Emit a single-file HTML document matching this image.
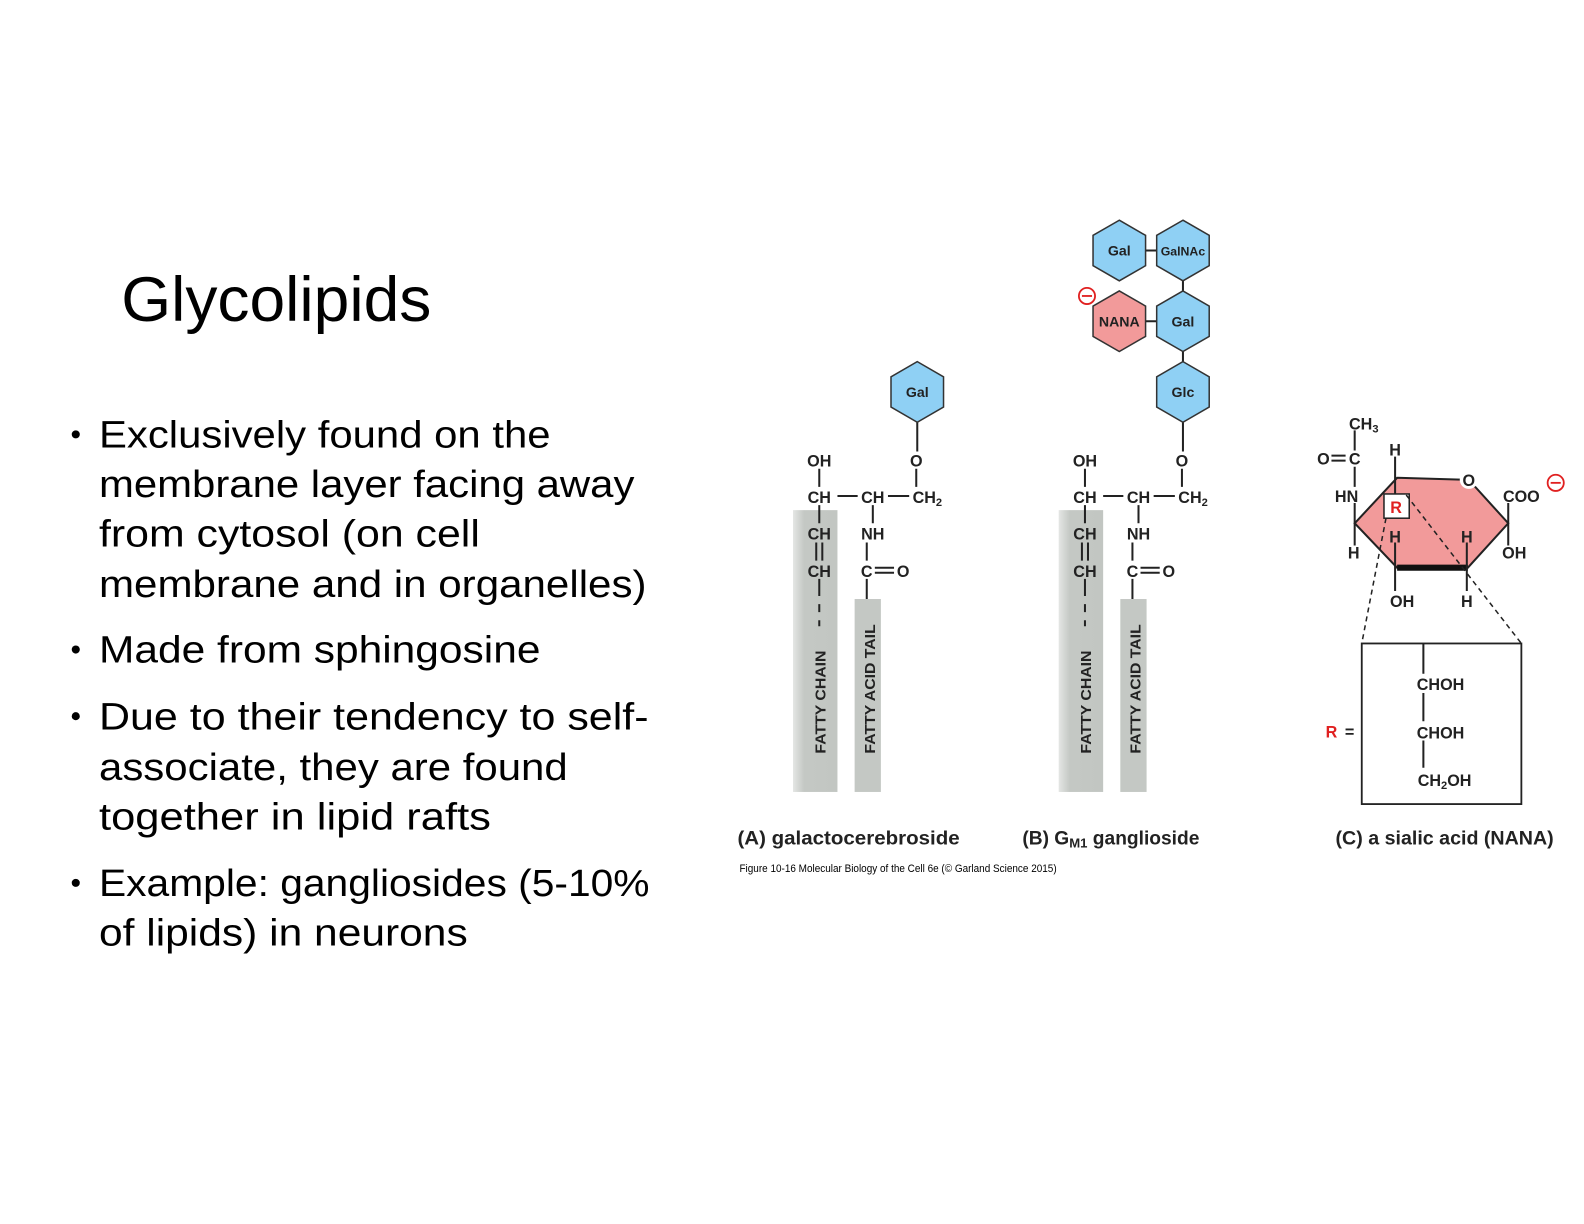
<!DOCTYPE html>
<html><head><meta charset="utf-8"><style>
html,body{margin:0;padding:0;background:#fff;width:1584px;height:1224px;overflow:hidden}
svg{display:block}
.b{font-family:"Liberation Sans",sans-serif;font-weight:bold;fill:#222}
.t{font-family:"Liberation Sans",sans-serif;fill:#000}
.ln{stroke:#222;stroke-width:2;fill:none}
.hb{fill:#8fd0f4;stroke:#333;stroke-width:1.5}
.hp{fill:#f29a9a;stroke:#333;stroke-width:1.5}
</style></head><body>
<svg width="1584" height="1224" viewBox="0 0 1568 1211.7" preserveAspectRatio="none">
<defs><linearGradient id="gr" x1="0" x2="1" y1="0" y2="0"><stop offset="0" stop-color="#e4e6e4"/><stop offset="0.25" stop-color="#c4c8c4"/><stop offset="1" stop-color="#c2c6c2"/></linearGradient></defs>
<text class="t" x="120" y="318" font-size="62" textLength="307" lengthAdjust="spacingAndGlyphs">Glycolipids</text>
<g font-size="38">
<circle cx="75" cy="430" r="4" fill="#000"/><circle cx="75" cy="643" r="4" fill="#000"/><circle cx="75" cy="709" r="4" fill="#000"/><circle cx="75" cy="874" r="4" fill="#000"/>
<text class="t" x="98" y="443" textLength="447" lengthAdjust="spacingAndGlyphs">Exclusively found on the</text>
<text class="t" x="98" y="492" textLength="530" lengthAdjust="spacingAndGlyphs">membrane layer facing away</text>
<text class="t" x="98" y="541" textLength="377" lengthAdjust="spacingAndGlyphs">from cytosol (on cell</text>
<text class="t" x="98" y="591" textLength="542" lengthAdjust="spacingAndGlyphs">membrane and in organelles)</text>
<text class="t" x="98" y="656" textLength="437" lengthAdjust="spacingAndGlyphs">Made from sphingosine</text>
<text class="t" x="98" y="722" textLength="544" lengthAdjust="spacingAndGlyphs">Due to their tendency to self-</text>
<text class="t" x="98" y="772" textLength="464" lengthAdjust="spacingAndGlyphs">associate, they are found</text>
<text class="t" x="98" y="821" textLength="388" lengthAdjust="spacingAndGlyphs">together in lipid rafts</text>
<text class="t" x="98" y="887" textLength="545" lengthAdjust="spacingAndGlyphs">Example: gangliosides (5-10%</text>
<text class="t" x="98" y="936" textLength="365" lengthAdjust="spacingAndGlyphs">of lipids) in neurons</text>
</g>

<g id="ceramide">
<rect x="785" y="505" width="44" height="279" fill="url(#gr)"/>
<rect x="846" y="593" width="26" height="191" fill="#c4c8c4"/>
<g class="b" font-size="16" text-anchor="middle">
<text x="811" y="462">OH</text><text x="811" y="498">CH</text><text x="864" y="498">CH</text><text x="918" y="498">CH<tspan font-size="11" dy="3">2</tspan></text>
<text x="907" y="462">O</text><text x="811" y="534">CH</text><text x="864" y="534">NH</text><text x="811" y="571">CH</text><text x="858" y="571">C</text><text x="894" y="571">O</text>
</g>
<path class="ln" d="M811 464V482M811 500V518M808 537V555M814 537V555M811 573V590M811 598V606M811 614V620M829 491H849M879 491H900M907 464V482M864 500V518M858 537V555M866 562H885M866 567H885M858 573V593"/>
<text class="b" font-size="15" transform="translate(817,746) rotate(-90)" textLength="102" lengthAdjust="spacingAndGlyphs">FATTY CHAIN</text>
<text class="b" font-size="15" transform="translate(866,746) rotate(-90)" textLength="128" lengthAdjust="spacingAndGlyphs">FATTY ACID TAIL</text>
</g>
<use href="#ceramide" transform="translate(263,0)"/>

<g>
<path class="ln" d="M908 418V447M1171 418V447M1134 248H1145M1171 278V288M1134 318H1145M1171 348V358"/>
<polygon class="hb" points="908,358 934,373 934,403 908,418 882,403 882,373"/>
<polygon class="hb" points="1108,218 1134,233 1134,263 1108,278 1082,263 1082,233"/>
<polygon class="hb" points="1171,218 1197,233 1197,263 1171,278 1145,263 1145,233"/>
<polygon class="hp" points="1108,288 1134,303 1134,333 1108,348 1082,333 1082,303"/>
<polygon class="hb" points="1171,288 1197,303 1197,333 1171,348 1145,333 1145,303"/>
<polygon class="hb" points="1171,358 1197,373 1197,403 1171,418 1145,403 1145,373"/>
<g class="b" font-size="14" text-anchor="middle">
<text x="908" y="393">Gal</text><text x="1108" y="253">Gal</text><text x="1171" y="253" font-size="12" textLength="44" lengthAdjust="spacingAndGlyphs">GalNAc</text>
<text x="1108" y="323">NANA</text><text x="1171" y="323">Gal</text><text x="1171" y="393">Glc</text>
</g>
<circle cx="1076" cy="293" r="8" fill="#fff" stroke="#e02020" stroke-width="1.8"/><path d="M1071 293H1081" stroke="#e02020" stroke-width="1.8"/>
</g>

<g>
<polygon points="1341,518 1383,473 1454,475 1493,518 1453,562 1383,562" fill="#f29a9a" stroke="#222" stroke-width="2"/>
<path d="M1383,562 H1453" stroke="#111" stroke-width="6"/>
<circle cx="1454" cy="475" r="9" fill="#fff"/>
<path class="ln" d="M1341 426V446M1341 462V482M1341 498V540M1381 452V500M1381 537V562M1381 562V585M1452 537V562M1452 562V585M1493 498V540M1318 451H1332M1318 456H1332"/>
<rect x="1370" y="489" width="25" height="24" fill="#fff" stroke="#222" stroke-width="1.5"/>
<path d="M1372 513L1348 637M1392 490L1506 637" stroke="#222" stroke-width="1.5" stroke-dasharray="5,4" fill="none"/>
<rect x="1348" y="637" width="158" height="159" fill="#fff" stroke="#222" stroke-width="1.8"/>
<path class="ln" d="M1409 637V667M1409 686V714M1409 733V760"/>
<g class="b" font-size="16" text-anchor="middle">
<text x="1350" y="425">CH<tspan font-size="11" dy="3">3</tspan></text>
<text x="1310" y="460">O</text><text x="1341" y="460">C</text><text x="1333" y="497">HN</text><text x="1340" y="553">H</text>
<text x="1381" y="451">H</text><text x="1381" y="537">H</text><text x="1452" y="537">H</text><text x="1388" y="601">OH</text><text x="1452" y="601">H</text>
<text x="1454" y="481">O</text><text x="1506" y="497">COO</text><text x="1499" y="553">OH</text>
<text x="1382" y="508" fill="#e02020">R</text>
<text x="1426" y="683">CHOH</text><text x="1426" y="731">CHOH</text><text x="1430" y="778">CH<tspan font-size="11" dy="3">2</tspan><tspan dy="-3">OH</tspan></text>
<text x="1318" y="730" fill="#e02020">R</text><text x="1336" y="730">=</text>
</g>
<circle cx="1540" cy="478" r="8" fill="#fff" stroke="#e02020" stroke-width="1.8"/><path d="M1535 478H1545" stroke="#e02020" stroke-width="1.8"/>
</g>

<g class="b" font-size="19">
<text x="730" y="836" textLength="220" lengthAdjust="spacingAndGlyphs">(A) galactocerebroside</text>
<text x="1012" y="836">(B) G<tspan font-size="13" dy="3">M1</tspan><tspan dy="-3"> ganglioside</tspan></text>
<text x="1322" y="836" textLength="216" lengthAdjust="spacingAndGlyphs">(C) a sialic acid (NANA)</text>
</g>
<text class="t" x="732" y="863" font-size="11" fill="#333" textLength="314" lengthAdjust="spacingAndGlyphs">Figure 10-16 Molecular Biology of the Cell 6e (© Garland Science 2015)</text>
</svg>
</body></html>
